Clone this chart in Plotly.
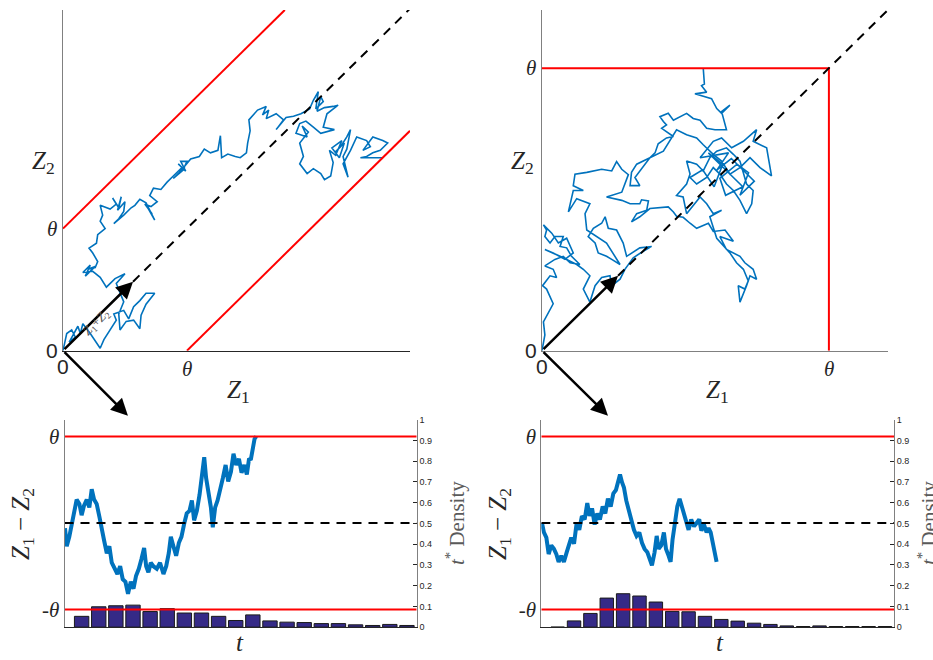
import plotly.graph_objects as go

THETA = 1.0

# ---------------- top-left: correlated walk, diagonal boundaries ----------------
tl_z1 = [0, 0.03, 0.07, 0.10, 0.05, 0.12, 0.14, 0.16, 0.22, 0.26, 0.30, 0.33, 0.38, 0.43, 0.41, 0.49, 0.53, 0.57, 0.62,
         0.67, 0.74, 0.67, 0.63, 0.62, 0.57, 0.51, 0.46, 0.45, 0.49, 0.46, 0.43, 0.50, 0.42, 0.35, 0.30, 0.24, 0.16, 0.22,
         0.18, 0.26, 0.21, 0.26, 0.28, 0.24, 0.21, 0.27, 0.28, 0.34, 0.30, 0.32, 0.30, 0.38, 0.43, 0.40, 0.45, 0.47, 0.44,
         0.50, 0.49, 0.45, 0.41, 0.49, 0.55, 0.58, 0.62, 0.67, 0.74, 0.69, 0.72, 0.66, 0.71, 0.76, 0.70, 0.73, 0.79, 0.84,
         0.89, 0.96, 0.93, 0.99, 0.95, 1.00, 0.97, 0.89, 0.94, 1.03, 1.10, 1.14, 1.19, 1.25, 1.27, 1.28, 1.33, 1.39, 1.43,
         1.48, 1.49, 1.51, 1.50, 1.57, 1.64, 1.61, 1.66, 1.64, 1.72, 1.78, 1.72, 1.80, 1.86, 1.92, 1.99, 2.02, 2.06, 2.04,
         2.10, 2.08, 2.05, 2.11, 2.18, 2.22, 2.13, 2.10, 2.19, 2.08, 2.02, 1.96, 1.91, 1.88, 1.97, 1.93, 1.98, 1.91, 1.94,
         1.91, 1.97, 2.02, 2.08, 2.11, 2.16, 2.18, 2.15, 2.20, 2.25, 2.17, 2.23, 2.27, 2.20, 2.24, 2.29, 2.32, 2.29, 2.26,
         2.30, 2.26, 2.32, 2.37, 2.45, 2.48, 2.42, 2.50, 2.58, 2.62, 2.56, 2.50, 2.45, 2.40, 2.58]
tl_z2 = [0, 0.14, 0.17, 0.11, 0.07, 0.20, 0.14, 0.22, 0.14, 0.08, 0.02, 0.09, 0.17, 0.25, 0.30, 0.33, 0.26, 0.36, 0.41,
         0.47, 0.47, 0.38, 0.29, 0.18, 0.25, 0.24, 0.17, 0.30, 0.40, 0.48, 0.55, 0.63, 0.59, 0.52, 0.60, 0.65, 0.64, 0.70,
         0.61, 0.69, 0.67, 0.68, 0.73, 0.80, 0.84, 0.88, 0.95, 1.00, 1.06, 1.11, 1.19, 1.16, 1.20, 1.25, 1.17, 1.26, 1.15,
         1.22, 1.14, 1.08, 1.04, 1.11, 1.17, 1.19, 1.24, 1.21, 1.07, 1.16, 1.12, 1.20, 1.18, 1.22, 1.27, 1.33, 1.32, 1.38,
         1.43, 1.50, 1.53, 1.47, 1.55, 1.55, 1.48, 1.41, 1.46, 1.57, 1.59, 1.65, 1.62, 1.64, 1.76, 1.58, 1.61, 1.59, 1.58,
         1.62, 1.70, 1.80, 1.89, 1.97, 2.00, 1.93, 1.97, 1.90, 1.94, 1.89, 1.81, 1.91, 1.92, 1.94, 1.98, 2.05, 2.12, 1.98,
         2.04, 2.08, 1.96, 1.99, 2.00, 2.01, 1.94, 1.83, 1.81, 1.78, 1.83, 1.88, 1.86, 1.78, 1.75, 1.84, 1.79, 1.70, 1.59,
         1.53, 1.45, 1.49, 1.45, 1.40, 1.43, 1.54, 1.64, 1.60, 1.72, 1.66, 1.58, 1.70, 1.63, 1.67, 1.75, 1.81, 1.65, 1.59,
         1.42, 1.53, 1.64, 1.75, 1.72, 1.67, 1.64, 1.75, 1.72, 1.70, 1.64, 1.62, 1.59, 1.58, 1.58]

# ---------------- top-right: independent walk, square boundary ----------------
tr_z1 = [0, 0.010, 0.005, 0.022, 0.039, 0.016, 0.002, 0.028, 0.051, 0.039, 0.010, 0.045, 0.074, 0.098, 0.132, 0.103, 0.086,
         0.063, 0.074, 0.045, 0.028, 0.010, 0.016, 0.005, 0.034, 0.057, 0.086, 0.109, 0.080, 0.039, 0.010, 0.063, 0.121, 0.144,
         0.167, 0.144, 0.167, 0.185, 0.208, 0.237, 0.243, 0.272, 0.289, 0.318, 0.353, 0.382, 0.341, 0.295, 0.283, 0.260, 0.231,
         0.220, 0.208, 0.179, 0.161, 0.185, 0.196, 0.225, 0.243, 0.272, 0.225, 0.156, 0.150, 0.167, 0.121, 0.092, 0.109, 0.144,
         0.109, 0.115, 0.156, 0.208, 0.243, 0.260, 0.278, 0.301, 0.278, 0.225, 0.278, 0.307, 0.341, 0.347, 0.371, 0.365, 0.330,
         0.312, 0.341, 0.376, 0.440, 0.458, 0.469, 0.492, 0.516, 0.539, 0.580, 0.597, 0.638, 0.667, 0.620, 0.643, 0.690, 0.707,
         0.736, 0.748, 0.725, 0.713, 0.690, 0.684, 0.707, 0.719, 0.702, 0.678, 0.655, 0.609, 0.585, 0.626, 0.597, 0.574, 0.551,
         0.504, 0.492, 0.469, 0.504, 0.516, 0.504, 0.539, 0.562, 0.585, 0.609, 0.643, 0.667, 0.690, 0.713, 0.736, 0.731, 0.713,
         0.690, 0.667, 0.643, 0.620, 0.597, 0.574, 0.539, 0.516, 0.560, 0.600, 0.630, 0.580, 0.660, 0.700, 0.640, 0.620, 0.680,
         0.720, 0.690, 0.740, 0.660, 0.610, 0.650, 0.551, 0.597, 0.626, 0.661, 0.702, 0.748, 0.736, 0.783, 0.800,
         0.760, 0.725, 0.690, 0.655, 0.626, 0.597, 0.562, 0.539, 0.504, 0.469, 0.423, 0.376, 0.330, 0.312, 0.307, 0.341, 0.324,
         0.376, 0.394, 0.405, 0.434, 0.458, 0.440, 0.417, 0.434, 0.423, 0.411, 0.440, 0.458, 0.481, 0.504, 0.527, 0.551, 0.574,
         0.603, 0.643, 0.638, 0.626, 0.655, 0.626, 0.609, 0.591, 0.533, 0.574, 0.556, 0.566, 0.562]
tr_z2 = [0, 0.056, 0.102, 0.137, 0.166, 0.218, 0.230, 0.265, 0.259, 0.288, 0.300, 0.323, 0.334, 0.311, 0.305, 0.334, 0.364,
         0.369, 0.404, 0.404, 0.381, 0.404, 0.427, 0.445, 0.416, 0.381, 0.398, 0.346, 0.323, 0.346, 0.358, 0.334, 0.305, 0.288,
         0.265, 0.218, 0.172, 0.230, 0.259, 0.265, 0.230, 0.253, 0.288, 0.329, 0.352, 0.369, 0.364, 0.334, 0.381, 0.427, 0.433,
         0.474, 0.451, 0.433, 0.404, 0.381, 0.346, 0.334, 0.323, 0.305, 0.381, 0.427, 0.485, 0.520, 0.538, 0.491, 0.567, 0.567,
         0.584, 0.625, 0.631, 0.642, 0.636, 0.669, 0.642, 0.623, 0.561, 0.544, 0.532, 0.520, 0.520, 0.534, 0.530, 0.497, 0.485,
         0.456, 0.474, 0.503, 0.509, 0.491, 0.476, 0.472, 0.451, 0.433, 0.451, 0.422, 0.427, 0.387, 0.404, 0.358, 0.334, 0.311,
         0.288, 0.253, 0.265, 0.230, 0.172, 0.230, 0.218, 0.247, 0.288, 0.311, 0.346, 0.398, 0.474, 0.497, 0.485, 0.520, 0.544,
         0.485, 0.544, 0.549, 0.590, 0.625, 0.671, 0.660, 0.636, 0.683, 0.706, 0.718, 0.695, 0.671, 0.590, 0.567, 0.520, 0.485,
         0.532, 0.567, 0.590, 0.625, 0.648, 0.613, 0.590, 0.613, 0.640, 0.580, 0.660, 0.700, 0.620, 0.580, 0.550, 0.610, 0.660,
         0.630, 0.550, 0.600, 0.680, 0.640, 0.700, 0.683, 0.741, 0.753, 0.718, 0.741, 0.782, 0.741, 0.718, 0.619,
         0.648, 0.683, 0.648, 0.625, 0.671, 0.695, 0.729, 0.753, 0.764, 0.782, 0.706, 0.683, 0.660, 0.631, 0.584, 0.584, 0.613,
         0.683, 0.700, 0.732, 0.753, 0.758, 0.770, 0.787, 0.799, 0.811, 0.828, 0.840, 0.816, 0.828, 0.840, 0.822, 0.816, 0.787,
         0.782, 0.782, 0.799, 0.846, 0.869, 0.840, 0.857, 0.892, 0.909, 0.915, 0.938, 0.944, 1.000]

# ---------------- bottom panels: Z1 - Z2 over time ----------------
bl_t = [0.03, 0.13, 0.28, 0.42, 0.56, 0.71, 0.87, 1.00, 1.14, 1.30, 1.45, 1.59, 1.73, 1.88, 2.04, 2.17, 2.31, 2.47, 2.62,
        2.76, 2.95, 3.09, 3.25, 3.40, 3.56, 3.71, 3.87, 4.03, 4.18, 4.34, 4.49, 4.65, 4.77, 4.90, 5.04, 5.19, 5.39, 5.58,
        5.78, 5.94, 6.09, 6.21, 6.36, 6.52, 6.68, 6.83, 6.99, 7.14, 7.30, 7.44, 7.57, 7.73, 7.89, 8.02, 8.16, 8.27, 8.41,
        8.55, 8.66, 8.80, 8.94, 9.09, 9.25, 9.41, 9.56, 9.72, 9.87, 10.03, 10.19, 10.34, 10.50, 10.65, 10.77, 10.89, 11.00,
        11.10, 11.20]
bl_diff = [-0.06, -0.27, -0.16, -0.01, 0.11, 0.27, 0.22, 0.09, 0.20, 0.27, 0.18, 0.39, 0.27, 0.22, 0.07, -0.08, -0.20,
           -0.35, -0.27, -0.46, -0.53, -0.59, -0.50, -0.65, -0.68, -0.82, -0.68, -0.76, -0.61, -0.53, -0.42, -0.29, -0.50,
           -0.57, -0.46, -0.50, -0.53, -0.46, -0.59, -0.50, -0.35, -0.16, -0.27, -0.38, -0.23, -0.16, -0.01, 0.11, 0.14,
           0.26, 0.03, 0.14, 0.33, 0.52, 0.76, 0.52, 0.37, 0.18, -0.05, 0.18, 0.26, 0.41, 0.52, 0.67, 0.48, 0.59, 0.80,
           0.67, 0.74, 0.58, 0.67, 0.56, 0.73, 0.74, 0.90, 0.97, 1.00]
br_t = [0.04, 0.16, 0.31, 0.45, 0.61, 0.77, 0.92, 1.06, 1.22, 1.38, 1.55, 1.71, 1.83, 2.00, 2.16, 2.32, 2.48, 2.65, 2.81,
        2.95, 3.10, 3.26, 3.42, 3.58, 3.75, 3.91, 4.07, 4.24, 4.40, 4.56, 4.68, 4.81, 4.93, 5.05, 5.19, 5.34, 5.50, 5.66,
        5.82, 5.99, 6.15, 6.31, 6.48, 6.64, 6.76, 6.92, 7.05, 7.17, 7.33, 7.49, 7.62, 7.78, 7.90, 8.02, 8.15, 8.31, 8.45,
        8.59, 8.72, 8.86, 9.00, 9.16, 9.33, 9.49, 9.65, 9.78, 9.94, 10.10, 10.22, 10.35, 10.47, 10.59, 10.71]
br_diff = [0.00, -0.11, -0.17, -0.36, -0.26, -0.30, -0.36, -0.45, -0.38, -0.45, -0.34, -0.26, -0.17, -0.24, 0.00, -0.08,
           0.08, 0.04, 0.23, 0.08, 0.17, -0.02, 0.11, 0.04, 0.19, 0.11, 0.28, 0.19, 0.34, 0.38, 0.49, 0.56, 0.47, 0.41,
           0.26, 0.15, 0.04, -0.08, -0.15, -0.11, -0.23, -0.30, -0.34, -0.41, -0.49, -0.34, -0.15, -0.30, -0.26, -0.11,
           -0.30, -0.38, -0.45, -0.19, -0.02, 0.19, 0.28, 0.19, 0.08, 0.00, -0.08, 0.04, -0.04, 0.00, 0.04, -0.09, -0.02,
           -0.11, -0.06, -0.11, -0.23, -0.34, -0.45]

# ---------------- first-passage-time densities ----------------
bl_bins = list(range(1, 21))
bl_density = [0.052, 0.098, 0.103, 0.106, 0.075, 0.089, 0.068, 0.068, 0.052, 0.032, 0.059, 0.030, 0.024, 0.022, 0.017,
              0.017, 0.011, 0.008, 0.013, 0.008]
br_bins = list(range(1, 22))
br_density = [0.0, 0.030, 0.066, 0.140, 0.161, 0.150, 0.121, 0.076, 0.074, 0.052, 0.037, 0.029, 0.019, 0.013, 0.006,
              0.003, 0.006, 0.003, 0.003, 0.003, 0.003]
density_ticks = [0, 0.1, 0.2, 0.3, 0.4, 0.5, 0.6, 0.7, 0.8, 0.9, 1]
density_labels = ["0", "0.1", "0.2", "0.3", "0.4", "0.5", "0.6", "0.7", "0.8", "0.9", "1"]

assert len(tl_z1) == len(tl_z2), (len(tl_z1), len(tl_z2))
assert len(tr_z1) == len(tr_z2), (len(tr_z1), len(tr_z2))
assert len(bl_t) == len(bl_diff) and len(br_t) == len(br_diff)

# ---------------- styling ----------------
W, H = 933, 660
BLUE = "#0072BD"
RED = "#FF0000"
BAR = "#352A87"
DARK = "#262626"
GRAY = "#808080"
SERIF = "Liberation Serif, DejaVu Serif, serif"
SANS = "Liberation Sans, Arial, sans-serif"

TL_MAX_X, TL_MAX_Y = 2.8, 2.79
TR_MAX = 1.206
TL_TIP = 0.565          # end of the Z1+Z2 arrow (top-left)
TR_TIP = 0.265          # end of the Z1+Z2 arrow (top-right)
BL_TMAX, BR_TMAX = 20.57, 21.55
ZLO, ZHI = -1.204, 1.194


def px(a, b):
    return [a / W, b / W]


def py(top, bottom):
    return [1 - bottom / H, 1 - top / H]


fig = go.Figure()

# ---- top-left
fig.add_trace(go.Scatter(x=tl_z1, y=tl_z2, mode="lines", line=dict(color=BLUE, width=1.6), xaxis="x", yaxis="y"))
fig.add_trace(go.Scatter(x=[0, TL_MAX_Y - THETA], y=[THETA, TL_MAX_Y], mode="lines",
                         line=dict(color=RED, width=2), xaxis="x", yaxis="y"))
fig.add_trace(go.Scatter(x=[THETA, TL_MAX_X], y=[0, TL_MAX_X - THETA], mode="lines",
                         line=dict(color=RED, width=2), xaxis="x", yaxis="y"))
fig.add_trace(go.Scatter(x=[TL_TIP, TL_MAX_X], y=[TL_TIP, TL_MAX_X], mode="lines",
                         line=dict(color="black", width=2, dash="9px,7px"), xaxis="x", yaxis="y"))

# ---- top-right
fig.add_trace(go.Scatter(x=tr_z1, y=tr_z2, mode="lines", line=dict(color=BLUE, width=1.6), xaxis="x2", yaxis="y2"))
fig.add_trace(go.Scatter(x=[0, THETA, THETA], y=[THETA, THETA, 0], mode="lines",
                         line=dict(color=RED, width=2), xaxis="x2", yaxis="y2"))
fig.add_trace(go.Scatter(x=[TR_TIP, TR_MAX], y=[TR_TIP, TR_MAX], mode="lines",
                         line=dict(color="black", width=2, dash="9px,7px"), xaxis="x2", yaxis="y2"))

# ---- bottom-left
fig.add_trace(go.Bar(x=bl_bins, y=bl_density, width=0.84, marker=dict(color=BAR, line=dict(color="#1a1a1a", width=1)),
                     xaxis="x3", yaxis="y3"))
fig.add_trace(go.Scatter(x=bl_t, y=bl_diff, mode="lines", line=dict(color=BLUE, width=4), xaxis="x3", yaxis="y5"))
fig.add_trace(go.Scatter(x=[0, BL_TMAX], y=[0, 0], mode="lines", line=dict(color="black", width=2, dash="9px,7px"),
                         xaxis="x3", yaxis="y5"))
for lvl in (THETA, -THETA):
    fig.add_trace(go.Scatter(x=[0, BL_TMAX], y=[lvl, lvl], mode="lines", line=dict(color=RED, width=2),
                             xaxis="x3", yaxis="y5"))

# ---- bottom-right
fig.add_trace(go.Bar(x=br_bins, y=br_density, width=0.82, marker=dict(color=BAR, line=dict(color="#1a1a1a", width=1)),
                     xaxis="x4", yaxis="y4"))
fig.add_trace(go.Scatter(x=br_t, y=br_diff, mode="lines", line=dict(color=BLUE, width=4), xaxis="x4", yaxis="y6"))
fig.add_trace(go.Scatter(x=[0, BR_TMAX], y=[0, 0], mode="lines", line=dict(color="black", width=2, dash="9px,7px"),
                         xaxis="x4", yaxis="y6"))
for lvl in (THETA, -THETA):
    fig.add_trace(go.Scatter(x=[0, BR_TMAX], y=[lvl, lvl], mode="lines", line=dict(color=RED, width=2),
                             xaxis="x4", yaxis="y6"))

base_ax = dict(showgrid=False, zeroline=False, showticklabels=False, ticks="", showline=True, linewidth=1)

top_y = py(5, 351)
bot_y = py(421, 631.7)

right_ax = dict(showgrid=False, zeroline=False, showline=True, linewidth=1, linecolor=GRAY, side="right",
                range=[0, 1], tickvals=density_ticks, ticktext=density_labels, ticks="inside", ticklen=4,
                tickcolor=DARK, tickfont=dict(family=SANS, size=9, color=DARK))
left_z_ax = dict(showgrid=False, zeroline=False, showline=True, linewidth=1, linecolor=GRAY, side="left",
                 range=[ZLO, ZHI], tickvals=[-THETA, THETA], ticktext=["-<i>θ</i>", "<i>θ</i>"], ticks="",
                 tickfont=dict(family=SERIF, size=21, color=DARK))

fig.update_layout(
    width=W, height=H, margin=dict(l=0, r=0, t=0, b=0), showlegend=False,
    paper_bgcolor="white", plot_bgcolor="white",
    xaxis=dict(base_ax, domain=px(63, 410), range=[0, TL_MAX_X], linecolor=DARK, anchor="y"),
    yaxis=dict(base_ax, domain=top_y, range=[0, TL_MAX_Y], linecolor=GRAY, anchor="x"),
    xaxis2=dict(base_ax, domain=px(542, 888), range=[0, TR_MAX], linecolor=GRAY, anchor="y2"),
    yaxis2=dict(base_ax, domain=top_y, range=[0, TR_MAX], linecolor=GRAY, anchor="x2"),
    xaxis3=dict(base_ax, domain=px(64.5, 416.7), range=[0, BL_TMAX], linecolor=DARK, anchor="y3"),
    yaxis3=dict(right_ax, domain=bot_y, anchor="x3"),
    yaxis5=dict(left_z_ax, overlaying="y3", anchor="x3"),
    xaxis4=dict(base_ax, domain=px(541.3, 894), range=[0, BR_TMAX], linecolor=DARK, anchor="y4"),
    yaxis4=dict(right_ax, domain=bot_y, anchor="x4"),
    yaxis6=dict(left_z_ax, overlaying="y4", anchor="x4"),
)

ann = []
zero_font = dict(family=SANS, size=21, color=DARK)
th_font = dict(family=SERIF, size=21, color=DARK)
lab_font = dict(family=SERIF, size=25, color=DARK)
for xr, yr in (("x", "y"), ("x2", "y2")):
    ann.append(dict(x=0, y=0, xref=xr, yref=yr, text="0", showarrow=False, xanchor="right", yanchor="middle",
                    xshift=-3, font=zero_font))
    ann.append(dict(x=0, y=0, xref=xr, yref=yr, text="0", showarrow=False, xanchor="center", yanchor="top",
                    yshift=-2, font=zero_font))
    ann.append(dict(x=0, y=THETA, xref=xr, yref=yr, text="<i>θ</i>", showarrow=False, xanchor="right",
                    yanchor="middle", xshift=-4, font=th_font))
    ann.append(dict(x=THETA, y=0, xref=xr, yref=yr, text="<i>θ</i>", showarrow=False, xanchor="center",
                    yanchor="top", yshift=-4, font=th_font))

# axis names
for xp, yp, txt in ((43, 160, "<i>Z</i><sub>2</sub>"), (522, 160, "<i>Z</i><sub>2</sub>"),
                    (238, 392, "<i>Z</i><sub>1</sub>"), (717, 392, "<i>Z</i><sub>1</sub>")):
    ann.append(dict(x=xp / W, y=1 - yp / H, xref="paper", yref="paper", text=txt, showarrow=False,
                    xanchor="center", yanchor="middle", font=lab_font))
for xp in (240, 720):
    ann.append(dict(x=xp / W, y=1 - 647 / H, xref="paper", yref="paper", text="<i>t</i>", showarrow=False,
                    xanchor="center", yanchor="middle", font=lab_font))
for xp in (22, 499):
    ann.append(dict(x=xp / W, y=1 - 527 / H, xref="paper", yref="paper",
                    text="<i>Z</i><sub>1</sub> − <i>Z</i><sub>2</sub>", showarrow=False, textangle=-90,
                    xanchor="center", yanchor="middle", font=dict(family=SERIF, size=25, color=DARK)))
for xp in (455, 927):
    ann.append(dict(x=xp / W, y=1 - 526 / H, xref="paper", yref="paper",
                    text="<i>t</i><sup>*</sup> Density", showarrow=False, textangle=-90,
                    xanchor="center", yanchor="middle", font=dict(family=SERIF, size=21, color="#5a5a5a")))

# rotated coordinate arrows
for xr, yr, tip, down in (("x", "y", TL_TIP, (0.524, -0.532)), ("x2", "y2", TR_TIP, (0.23, -0.23))):
    ann.append(dict(x=tip, y=tip, ax=0, ay=0, xref=xr, yref=yr, axref=xr, ayref=yr, text="", showarrow=True,
                    arrowhead=2, arrowsize=1.35, arrowwidth=2.5, arrowcolor="black", standoff=0))
    ann.append(dict(x=down[0], y=down[1], ax=0, ay=0, xref=xr, yref=yr, axref=xr, ayref=yr, text="",
                    showarrow=True, arrowhead=2, arrowsize=1.35, arrowwidth=2.5, arrowcolor="black", standoff=0))

ann.append(dict(x=0.27, y=0.23, xref="x", yref="y", text="<i>Z</i><sub>1</sub>+<i>Z</i><sub>2</sub>",
                showarrow=False, textangle=-45, font=dict(family=SERIF, size=13, color="#555555")))
ann.append(dict(x=0.29, y=-0.24, xref="x", yref="y", text="<i>Z</i><sub>1</sub> − <i>Z</i><sub>2</sub>",
                showarrow=False, textangle=45, font=dict(family=SERIF, size=13, color="#444444")))
ann.append(dict(x=0.14, y=-0.11, xref="x2", yref="y2", text="<i>Z</i><sub>1</sub> − <i>Z</i><sub>2</sub>",
                showarrow=False, textangle=45, font=dict(family=SERIF, size=13, color="#444444")))

fig.update_layout(annotations=ann)
fig.write_html("out.html", config={"displayModeBar": False},
               post_script="document.body.style.margin='0';document.body.style.overflow='hidden';")
